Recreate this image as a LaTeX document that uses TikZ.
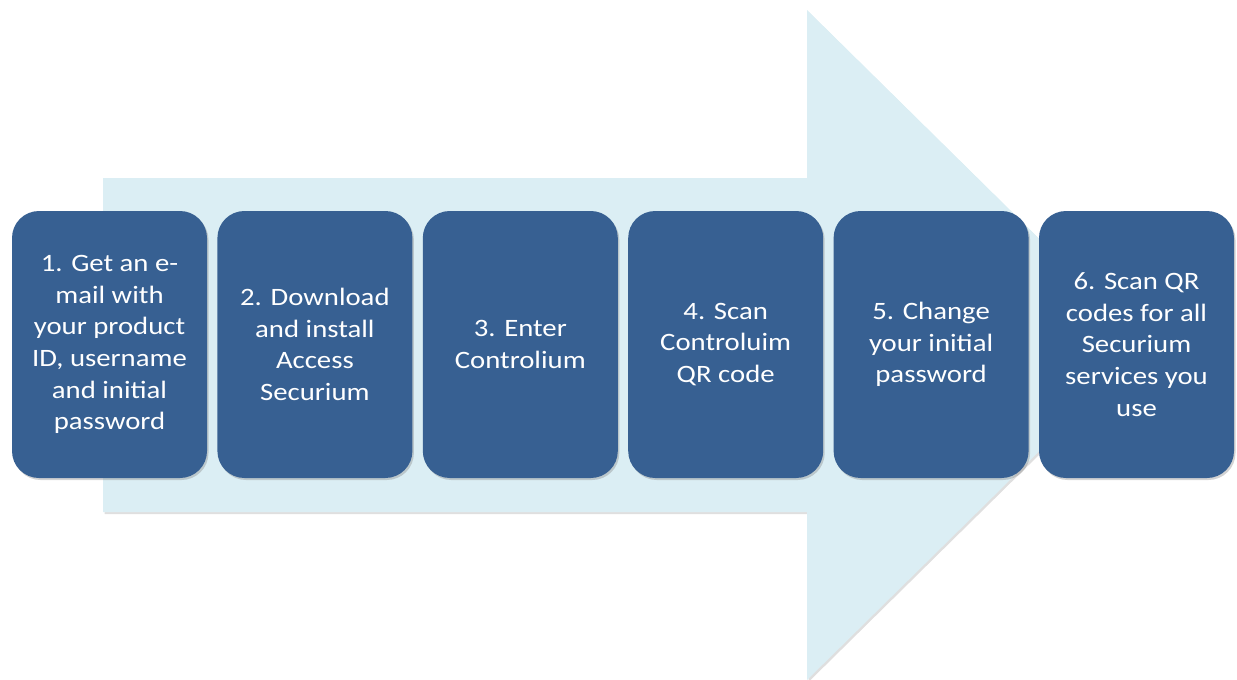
\documentclass[tikz,border=0pt]{standalone}
\usepackage{fontspec}
\setmainfont[FakeStretch=1.15]{Carlito}
\usetikzlibrary{shadows}
\definecolor{stageblue}{HTML}{376092}
\definecolor{arrowblue}{HTML}{DBEEF4}

\begin{document}
\begin{tikzpicture}
[x=1pt,y=-1pt,
 stage/.style={fill=stageblue,text=white,rounded corners=27pt,
   minimum width=195pt,minimum height=267pt,inner sep=0pt,align=center,
   font=\fontsize{25}{31.6}\selectfont,
   drop shadow={shadow xshift=1.5pt,shadow yshift=-2pt,opacity=0.35}}]
\useasboundingbox (0,0) rectangle (1237,680);
\clip (0,0) rectangle (1237,680);
% big arrow behind the steps
\fill[arrowblue,drop shadow={shadow xshift=1.5pt,shadow yshift=-2pt,opacity=0.25}]
  (103,178) -- (807,178) -- (807,10) -- (1147,345) -- (807,680)
  -- (807,512) -- (103,512) -- cycle;
\node[stage] (s1) at (109.5,344.5) {1. Get an e-\\mail with\\your product\\ID, username\\and initial\\password};
\node[stage] (s2) at (314.9,344.5) {2. Download\\and install\\Access\\Securium};
\node[stage] (s3) at (520.3,344.5) {3. Enter\\Controlium};
\node[stage] (s4) at (725.7,344.5) {4. Scan\\Controluim\\QR code};
\node[stage] (s5) at (931.1,344.5) {5. Change\\your initial\\password};
\node[stage] (s6) at (1136.5,344.5) {6. Scan QR\\codes for all\\Securium\\services you\\use};
\end{tikzpicture}
\end{document}
